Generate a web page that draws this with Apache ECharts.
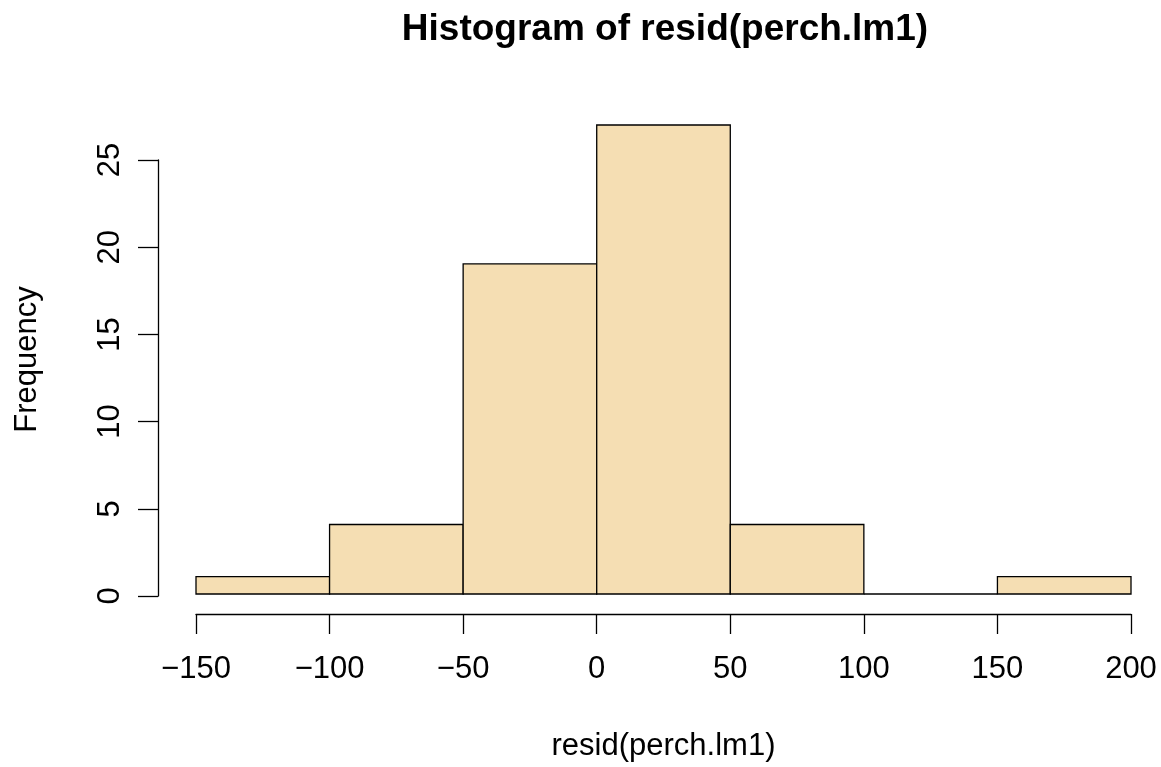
<!DOCTYPE html>
<html>
<head>
<meta charset="utf-8">
<script src="https://cdn.jsdelivr.net/npm/echarts@6/dist/echarts.min.js"></script>
<style>
  html, body { margin: 0; padding: 0; background: #fff; }
  #chart { width: 1161px; height: 767px; }
</style>
</head>
<body>
<div id="chart"></div>
<script>
// Histogram bins (left/right edges) and counts
const binStart = [-150, -100, -50, 0, 50, 100, 150];
const binEnd   = [-100, -50, 0, 50, 100, 150, 200];
const counts   = [1, 4, 19, 27, 4, 0, 1];
const xTicks   = [-150, -100, -50, 0, 50, 100, 150, 200];
const yTicks   = [0, 5, 10, 15, 20, 25];

const FONT = 'Liberation Sans, Arial, Helvetica, sans-serif';
const fmt = v => String(v).replace('-', '\u2212');
const LW = 1.3;

const chart = echarts.init(document.getElementById('chart'), null, { renderer: 'canvas' });

const rows = counts.map((c, i) => [binStart[i], binEnd[i], c]);

chart.setOption({
  animation: false,
  backgroundColor: '#ffffff',
  title: {
    text: 'Histogram of resid(perch.lm1)',
    left: 660, top: 6, textAlign: 'center',
    textStyle: { fontFamily: FONT, fontSize: 37, fontWeight: 'bold', color: '#000' }
  },
  grid: [
    // plotting area for the bars
    { left: 196, right: 30, top: 125, bottom: 171 },
    // frequency axis spans only its tick range
    { left: 196, right: 30, top: 160, bottom: 171 }
  ],
  xAxis: [
    {
      gridIndex: 0, type: 'value', min: xTicks[0], max: xTicks[xTicks.length - 1], interval: 50,
      position: 'bottom', offset: 20,
      axisLine: { show: true, onZero: false, lineStyle: { color: '#000', width: LW } },
      axisTick: { show: true, length: 20, lineStyle: { color: '#000', width: LW } },
      axisLabel: { fontFamily: FONT, fontSize: 31, color: '#000', margin: 40, formatter: fmt },
      splitLine: { show: false },
      name: 'resid(perch.lm1)', nameLocation: 'middle', nameGap: 117,
      nameTextStyle: { fontFamily: FONT, fontSize: 31, color: '#000' }
    },
    {
      gridIndex: 1, type: 'value', min: xTicks[0], max: xTicks[xTicks.length - 1], show: false
    }
  ],
  yAxis: [
    {
      gridIndex: 0, type: 'value', min: 0, max: 27,
      position: 'left', offset: 38,
      axisLine: { show: false, onZero: false },
      axisTick: { show: false },
      axisLabel: { show: false },
      splitLine: { show: false },
      name: 'Frequency', nameLocation: 'middle', nameGap: 115, nameRotate: 90,
      nameTextStyle: { fontFamily: FONT, fontSize: 31, color: '#000' }
    },
    {
      gridIndex: 1, type: 'value', min: yTicks[0], max: yTicks[yTicks.length - 1], interval: 5,
      position: 'left', offset: 38,
      axisLine: { show: true, onZero: false, lineStyle: { color: '#000', width: LW } },
      axisTick: { show: true, length: 20, lineStyle: { color: '#000', width: LW } },
      axisLabel: { fontFamily: FONT, fontSize: 31, color: '#000', rotate: 90, margin: 48, align: 'center', verticalAlign: 'middle' },
      splitLine: { show: false }
    }
  ],
  series: [{
    type: 'custom',
    xAxisIndex: 0, yAxisIndex: 0,
    data: rows,
    encode: { x: [0, 1], y: 2 },
    renderItem: (params, api) => {
      const p0 = api.coord([api.value(0), 0]);
      const p1 = api.coord([api.value(1), api.value(2)]);
      return {
        type: 'rect',
        shape: { x: p0[0], y: p1[1], width: p1[0] - p0[0], height: p0[1] - p1[1] },
        style: { fill: '#F5DEB3', stroke: '#000', lineWidth: LW }
      };
    }
  }]
});
</script>
</body>
</html>
